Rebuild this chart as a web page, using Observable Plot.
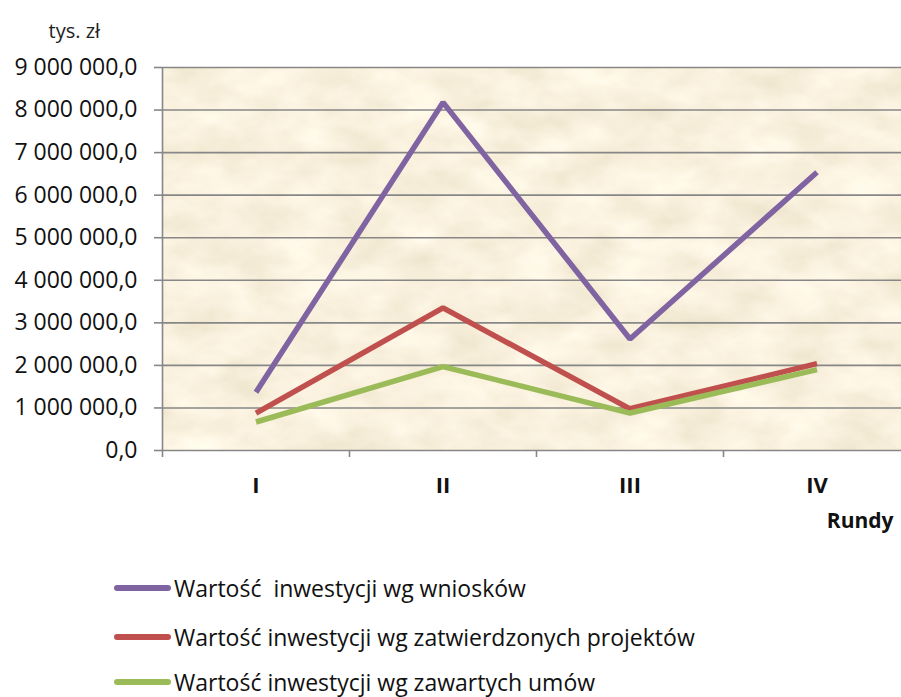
<!DOCTYPE html>
<html>
<head>
<meta charset="utf-8">
<script src="https://cdn.jsdelivr.net/npm/d3@7"></script>
<script src="https://cdn.jsdelivr.net/npm/@observablehq/plot@0.6"></script>
<style>
  html, body { margin: 0; padding: 0; background: #fff; }
  body { width: 901px; height: 697px; overflow: hidden; font-family: "Open Sans", sans-serif; }
  #legend { position: absolute; left: 0; top: 0; }
  .row { position: absolute; left: 114px; display: flex; align-items: center; font-size: 23px; color: #111; white-space: pre; }
  .sw { width: 57px; height: 5.5px; border-radius: 3px; margin-right: 3px; }
</style>
</head>
<body>
<div id="chart"></div>
<div id="legend"></div>
<script>
const categories = ["I", "II", "III", "IV"];
const seriesNames = [
  "Wartość  inwestycji wg wniosków",
  "Wartość inwestycji wg zatwierdzonych projektów",
  "Wartość inwestycji wg zawartych umów"
];
const wnioski   = [1370000, 8180000, 2620000, 6540000];
const projekty  = [880000, 3350000, 980000, 2040000];
const umowy     = [670000, 1970000, 880000, 1900000];
const colors = ["#8064a2", "#c0504d", "#9bbb59"];
const yTicks = [0, 1000000, 2000000, 3000000, 4000000, 5000000, 6000000, 7000000, 8000000, 9000000];

const values = [wnioski, projekty, umowy];
const data = [];
values.forEach((arr, s) => arr.forEach((v, i) => data.push({series: seriesNames[s], pos: i + 0.5, cat: categories[i], value: v})));

const fmt = v => d3.format(",.1f")(v).replace(/,/g, " ").replace(".", ",");

const plot = Plot.plot({
  width: 901,
  height: 550,
  marginLeft: 162,
  marginRight: -9,
  marginTop: 67,
  marginBottom: 100,
  style: {fontFamily: "Open Sans, sans-serif", fontSize: "23px", color: "#111", background: "transparent"},
  x: {domain: [0, 4], range: [162, 910]},
  y: {domain: [0, 9000000], range: [450, 67]},
  color: {domain: seriesNames, range: colors},
  marks: [
    Plot.frame({fill: "#f3e2bc", stroke: null}),
    Plot.ruleY(yTicks.slice(1), {stroke: "#878787", strokeWidth: 1.6}),
    Plot.axisY({ticks: yTicks, tickFormat: fmt, tickSize: 8, tickPadding: 17, stroke: "#878787", strokeWidth: 1.6, label: null, fontSize: 23}),
    Plot.axisX({ticks: [0, 1, 2, 3], tickFormat: () => "", tickSize: 7, stroke: "#878787", strokeWidth: 1.6, label: null}),
    Plot.axisX({ticks: categories.map((c, i) => i + 0.5), tickFormat: (d) => categories[Math.floor(d)], tickSize: 0, tickPadding: 27, fontWeight: "bold", fontSize: 22, label: null}),
    Plot.ruleX([0], {stroke: "#878787", strokeWidth: 1.6}),
    Plot.ruleY([0], {stroke: "#878787", strokeWidth: 1.6}),
    Plot.line(data, {x: "pos", y: "value", z: "series", stroke: "series", strokeWidth: 5.5, strokeLinecap: "butt", strokeLinejoin: "miter"}),
    Plot.text(["Rundy"], {frameAnchor: "bottom-right", dx: -17, dy: 77, fontWeight: "bold", fontSize: 21, textAnchor: "end", fill: "#111"}),
    Plot.text(["tys. zł"], {frameAnchor: "top-left", dx: -114, dy: -44, fontSize: 20, textAnchor: "start", fill: "#222"})
  ]
});

// parchment texture on the plot frame
const svg = d3.select(plot);
const defs = svg.insert("defs", ":first-child");
const f = defs.append("filter").attr("id", "parch").attr("x", 0).attr("y", 0).attr("width", 1).attr("height", 1);
f.append("feTurbulence").attr("type", "fractalNoise").attr("baseFrequency", "0.018 0.03").attr("numOctaves", 4).attr("seed", 7).attr("result", "n");
f.append("feColorMatrix").attr("in", "n").attr("type", "matrix")
  .attr("values", "0.24 0 0 0 0.83  0.26 0 0 0 0.75  0.32 0 0 0 0.57  0 0 0 0 1").attr("result", "c");
f.append("feComposite").attr("in", "c").attr("in2", "SourceGraphic").attr("operator", "in");
svg.select("[aria-label=frame]").attr("filter", "url(#parch)");

document.getElementById("chart").appendChild(plot);

const legend = document.getElementById("legend");
const rowsY = [588, 637, 682];
seriesNames.forEach((name, i) => {
  const r = document.createElement("div");
  r.className = "row";
  r.style.top = (rowsY[i] - 15) + "px";
  r.style.height = "30px";
  r.innerHTML = `<span class="sw" style="background:${colors[i]}"></span><span>${name}</span>`;
  legend.appendChild(r);
});
</script>
</body>
</html>
